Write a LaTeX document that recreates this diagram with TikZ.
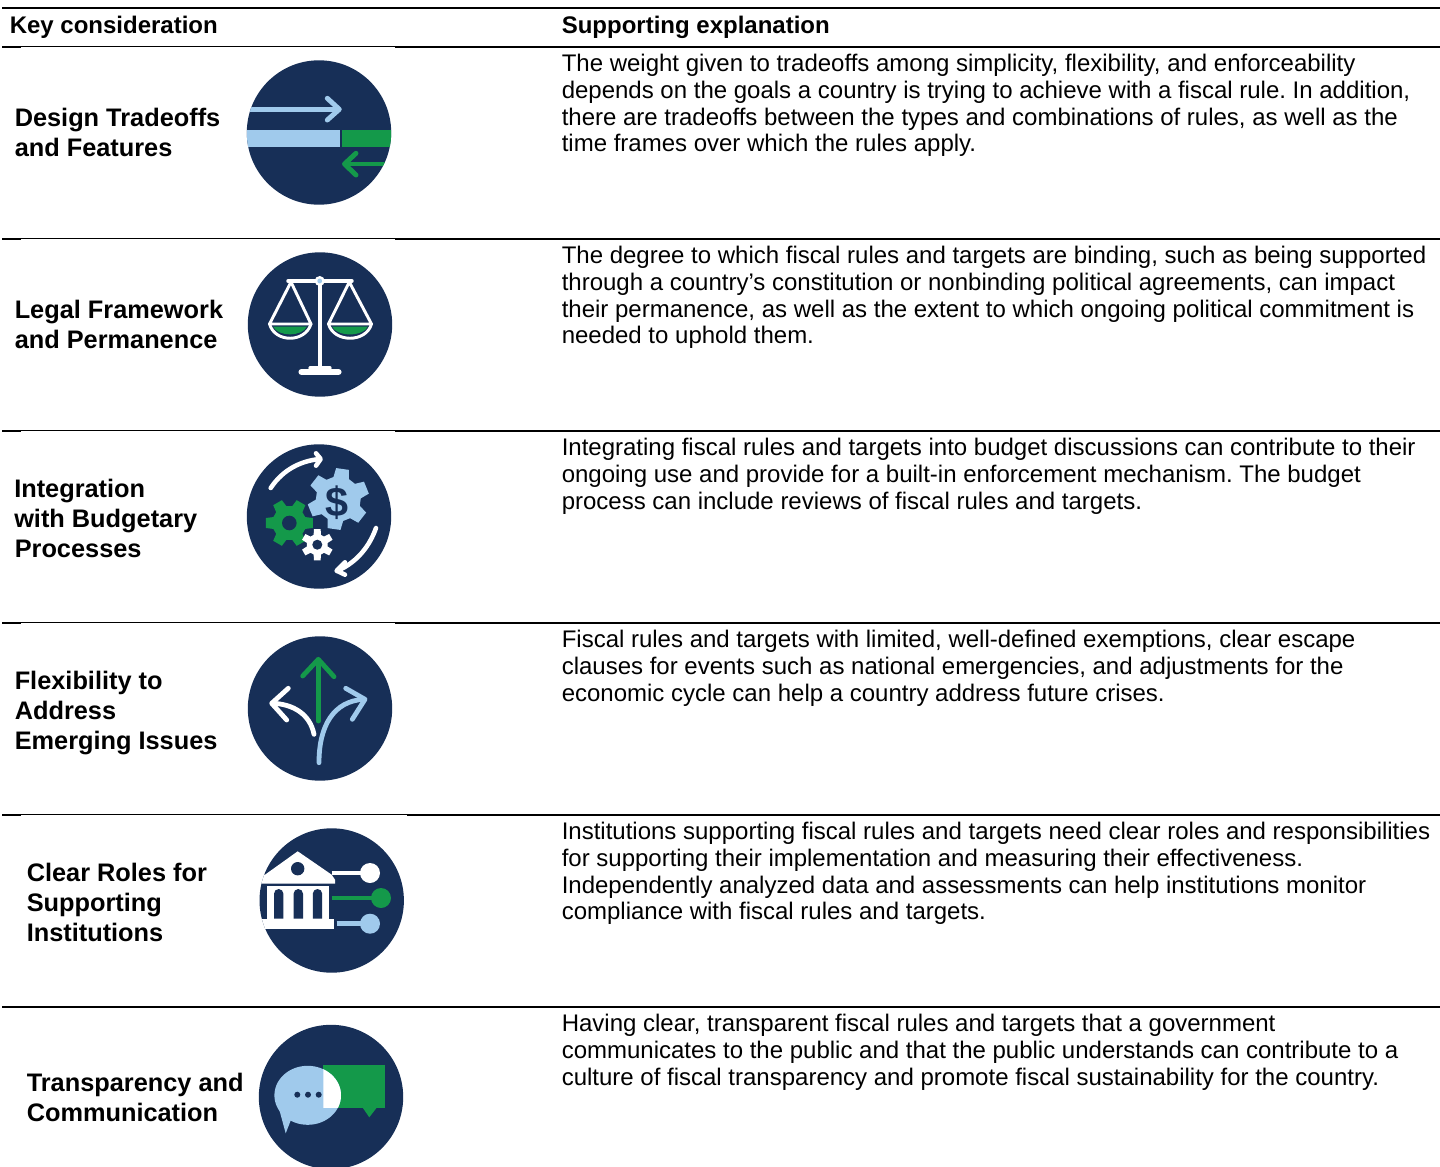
\documentclass[tikz,border=0pt]{standalone}
\usepackage{fontspec}
\setmainfont{Liberation Sans}
\frenchspacing
\definecolor{navy}{HTML}{172F57}
\definecolor{lblue}{HTML}{A0CAEC}
\definecolor{grn}{HTML}{14994A}
\tikzset{
  x=0.75pt,y=-0.75pt,
  toprule/.style={draw=black,line width=1.5pt},
  thick rule/.style={draw=black,line width=1.5pt},
  thin rule/.style={draw=black,line width=0.9pt},
  hdr/.style={anchor=base west,inner sep=0pt,font=\fontsize{18pt}{20pt}\selectfont\bfseries},
  keytext/.style={anchor=base west,inner sep=0pt,align=left,font=\fontsize{19pt}{22.5pt}\selectfont\bfseries},
  body/.style={anchor=base west,inner sep=0pt,font=\fontsize{18pt}{20pt}\selectfont},
  disc/.style={fill=navy,draw=none},
  wl/.style={draw=white,line width=2.6pt,line cap=round,line join=round},
  wa/.style={draw=white,line width=3.4pt,line cap=round,line join=round},
  bl/.style={draw=lblue,line width=3.6pt,line cap=round,line join=round},
  gl/.style={draw=grn,line width=3.6pt,line cap=round,line join=round},
}
% gear: #1 cx, #2 cy, #3 outer r, #4 root r, #5 teeth, #6 rotation, #7 colour, #8 hole r, #9 hole colour
\newcommand{\mygear}[9]{%
  \pgfmathsetmacro{\gs}{360/#5}
  \fill[#7] \foreach \k in {1,...,#5} {
     \ifnum\k=1 ({#1+#4*cos(#6+(\k-1)*\gs-0.34*\gs)},{#2+#4*sin(#6+(\k-1)*\gs-0.34*\gs)}) \else
     -- ({#1+#4*cos(#6+(\k-1)*\gs-0.34*\gs)},{#2+#4*sin(#6+(\k-1)*\gs-0.34*\gs)}) \fi
     -- ({#1+#3*cos(#6+(\k-1)*\gs-0.2*\gs)},{#2+#3*sin(#6+(\k-1)*\gs-0.2*\gs)})
     -- ({#1+#3*cos(#6+(\k-1)*\gs+0.2*\gs)},{#2+#3*sin(#6+(\k-1)*\gs+0.2*\gs)})
     -- ({#1+#4*cos(#6+(\k-1)*\gs+0.34*\gs)},{#2+#4*sin(#6+(\k-1)*\gs+0.34*\gs)})
  } -- cycle;
  \fill[#9] (#1,#2) circle[radius=#8];
}
\begin{document}
\begin{tikzpicture}
\useasboundingbox (0,0) rectangle (1440,1167);
% rules
\draw[toprule] (2,8) -- (1440,8);
\foreach \yy/\xb in {47/395,239/395,431/395,623/395,815/407} {
  \draw[thick rule] (2,\yy) -- (21,\yy);
  \draw[thin rule] (21,\yy-0.5) -- (\xb,\yy-0.5);
  \draw[thick rule] (\xb,\yy) -- (1440,\yy);
}
\draw[thick rule] (2,1007) -- (1440,1007);
% header
\node[hdr] (h1) at (9.5,33) {Key consideration};
\node[hdr] (h2) at (561.5,33) {Supporting explanation};
% key texts
\newcommand{\keyline}[3]{\node[keytext] at (#1,#2) {#3};}
\keyline{14.5}{126}{Design Tradeoffs}
\keyline{14.5}{156}{and Features}
\keyline{14.5}{318}{Legal Framework}
\keyline{14.5}{348}{and Permanence}
\keyline{14}{497}{Integration}
\keyline{14}{527}{with Budgetary}
\keyline{14.5}{557}{Processes}
\keyline{14.5}{689}{Flexibility to}
\keyline{14.5}{719}{Address}
\keyline{14.5}{749}{Emerging Issues}
\keyline{26.5}{881}{Clear Roles for}
\keyline{26.5}{911}{Supporting}
\keyline{26.5}{941}{Institutions}
\keyline{26.5}{1091}{Transparency and}
\keyline{26.5}{1121}{Communication}
% body
\newcommand{\bodyline}[2]{\node[body] at (561.5,#1) {#2};}
\bodyline{71}{The weight given to tradeoffs among simplicity, flexibility, and enforceability}
\bodyline{98}{depends on the goals a country is trying to achieve with a fiscal rule. In addition,}
\bodyline{125}{there are tradeoffs between the types and combinations of rules, as well as the}
\bodyline{151.5}{time frames over which the rules apply.}
\bodyline{263}{The degree to which fiscal rules and targets are binding, such as being supported}
\bodyline{290}{through a country’s constitution or nonbinding political agreements, can impact}
\bodyline{317}{their permanence, as well as the extent to which ongoing political commitment is}
\bodyline{343.5}{needed to uphold them.}
\bodyline{455}{Integrating fiscal rules and targets into budget discussions can contribute to their}
\bodyline{482}{ongoing use and provide for a built-in enforcement mechanism. The budget}
\bodyline{509}{process can include reviews of fiscal rules and targets.}
\bodyline{647}{Fiscal rules and targets with limited, well-defined exemptions, clear escape}
\bodyline{674}{clauses for events such as national emergencies, and adjustments for the}
\bodyline{701}{economic cycle can help a country address future crises.}
\bodyline{839}{Institutions supporting fiscal rules and targets need clear roles and responsibilities}
\bodyline{866}{for supporting their implementation and measuring their effectiveness.}
\bodyline{893}{Independently analyzed data and assessments can help institutions monitor}
\bodyline{919.5}{compliance with fiscal rules and targets.}
\bodyline{1031}{Having clear, transparent fiscal rules and targets that a government}
\bodyline{1058}{communicates to the public and that the public understands can contribute to a}
\bodyline{1085}{culture of fiscal transparency and promote fiscal sustainability for the country.}
% ---- icon 1
\begin{scope}
\path[disc] (319,132.5) circle[radius=72.2];
\clip (319,132.5) circle[radius=72.2];
\draw[draw=lblue,line width=3.7pt] (240,109.3) -- (338,109.3);
\draw[bl,line width=3.7pt] (327.3,98.3) -- (339.3,109.3) -- (327.3,120);
\fill[lblue] (240,130) rectangle (339.7,146.7);
\fill[grn] (342.3,130) rectangle (400,146.7);
\draw[draw=grn,line width=3.7pt] (346,164) -- (400,164);
\draw[gl,line width=3.7pt] (356,153.3) -- (344.5,164) -- (356,175);
\end{scope}
% ---- icon 2
\path[disc] (320,324.5) circle[radius=72.2];
\fill[grn] (273,326.5) .. controls (278,337) and (302,337) .. (307,326.5) -- cycle;
\fill[grn] (332,326.5) .. controls (337,337) and (363,337) .. (368,326.5) -- cycle;
\draw[wl,line width=2.2pt] (291,282) -- (269.5,324) -- (311,324) -- cycle;
\draw[wl,line width=2.2pt] (349.3,282) -- (328.5,324) -- (371.5,324) -- cycle;
\draw[wl,line width=2.2pt] (269.5,324) .. controls (275,343) and (305,343) .. (311,324);
\draw[wl,line width=2.2pt] (328.5,324) .. controls (334,343) and (366,343) .. (371.5,324);
\draw[wl] (288,281) -- (352,281);
\draw[wl,line width=3pt,line cap=butt] (319.5,281) -- (319.5,372);
\draw[wl,line width=4.6pt] (301.5,372) -- (338.5,372);
\draw[wl,line width=2.4pt] (310,368) -- (330,368);
\fill[white] (319.7,281) circle[radius=5];
\fill[lblue] (319.7,281) circle[radius=2.4];
% ---- icon 3
\path[disc] (319,516.5) circle[radius=72.2];
\mygear{338.3}{499}{31}{22.5}{6}{-82}{lblue}{0.1}{lblue}
\node[inner sep=0pt,text=navy,font=\fontsize{31pt}{31pt}\selectfont\bfseries] (dollar) at (337,503) {\$};
\mygear{289.3}{523}{24}{17}{6}{0}{grn}{7.3}{navy}
\mygear{317.3}{544.7}{16}{10.5}{6}{-90}{white}{5}{navy}
\draw[wa] (270.7,488) .. controls (283.3,469) and (301.7,460.7) .. (320,459);
\draw[wa] (316,453.3) -- (320.7,459) -- (316,465.7);
\draw[wa] (376,528) .. controls (370,545) and (358,562) .. (337,571);
\draw[wa] (345,562.3) -- (336.7,570.7) -- (345,574.7);
% ---- icon 4
\path[disc] (320,708.5) circle[radius=72.2];
\draw[gl] (318.3,721) -- (318.3,661);
\draw[gl] (302.7,676) -- (318.3,659.3) -- (334,676.7);
\draw[wl,line width=3.6pt] (314,734.3) .. controls (310,714) and (293,704) .. (272.5,703.3);
\draw[wl,line width=3.6pt] (288.3,688.3) -- (271.7,703.3) -- (286.7,720);
\draw[bl] (319,762.7) .. controls (319,726) and (333.3,701) .. (364,699.3);
\draw[bl] (345.7,688.3) -- (365,699.3) -- (352.3,719.3);
% ---- icon 5
\path[disc] (331.7,900.5) circle[radius=72.2];
\begin{scope}
\clip (331.7,900.5) circle[radius=72.2];
\fill[white] (265,874.7) -- (297.7,851.3) -- (331.7,874.7) -- (335,879.7) -- (335,883.7) -- (258,883.7) -- (258,874.7) -- cycle;
\fill[navy] (297.7,868.7) circle[radius=6.7];
\fill[white] (266.7,885.7) rectangle (329.3,919);
\foreach \xa in {278.7,298.3,317.5} {
  \fill[navy] (\xa-4.7,918.7) -- (\xa-4.7,893.7) arc[start angle=180,end angle=360,radius=4.7] -- (\xa+4.7,918.7) -- cycle;
}
\fill[white] (258,919) rectangle (334,928.5);
\end{scope}
\draw[draw=white,line width=3.4pt] (331.7,873) -- (371,873);
\fill[white] (370,873) circle[radius=10];
\draw[draw=grn,line width=3.4pt] (331.7,898) -- (382,898);
\fill[grn] (381,898) circle[radius=10];
\draw[draw=lblue,line width=3.4pt] (336.7,923.7) -- (370,923.7);
\fill[lblue] (370,923.7) circle[radius=10];
% ---- icon 6
\path[disc] (331,1097) circle[radius=72.2];
\fill[grn] (323.3,1065) rectangle (384.8,1107.7);
\fill[grn] (362.7,1107.7) -- (369.3,1117.3) -- (376.7,1107.7) -- cycle;
\fill[lblue] (307.7,1095.3) ellipse[x radius=33.3,y radius=29.5];
\fill[lblue] (278.3,1106) -- (285.7,1133.3) -- (291.7,1118) -- cycle;
\begin{scope}
\clip (323.3,1065) rectangle (384.8,1107.7);
\fill[white] (307.7,1095.3) ellipse[x radius=33.3,y radius=29.5];
\end{scope}
\fill[navy] (297.3,1094.7) circle[radius=3];
\fill[navy] (308,1094.7) circle[radius=3];
\fill[navy] (318.7,1094.7) circle[radius=3];
\end{tikzpicture}
\end{document}
